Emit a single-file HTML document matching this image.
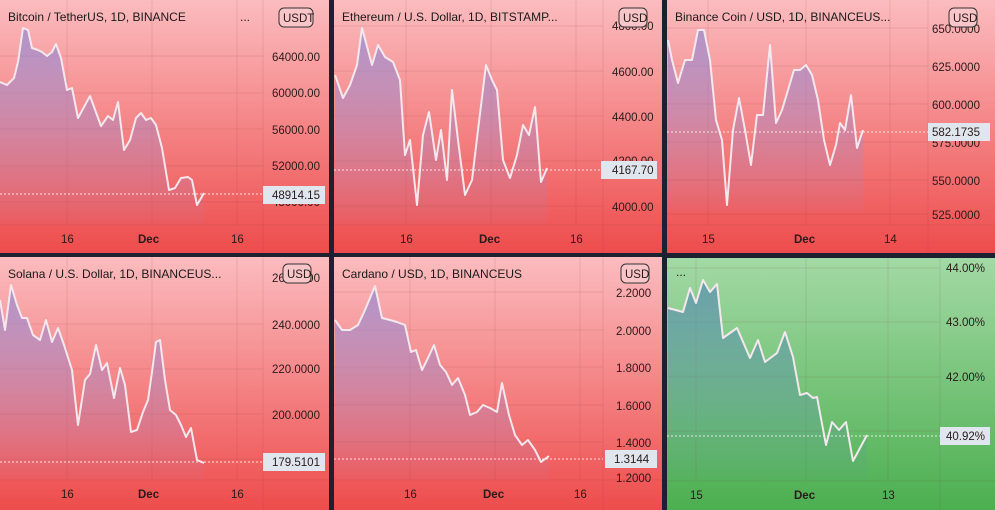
<!DOCTYPE html>
<html><head><meta charset="utf-8"><style>
body{margin:0;background:#1c2030;}
svg{display:block;font-family:"Liberation Sans",sans-serif;}
.t{font-size:12px;fill:#1a1a1a}
.a{font-size:11.5px;fill:#2a1a1a}
.b{font-size:11.5px;fill:#2a1a1a;font-weight:bold}
.ln{fill:none;stroke:#f3e8ee;stroke-width:2;stroke-linejoin:round}
.g{stroke:rgba(120,40,40,0.12);stroke-width:1}
.dot{stroke:#fff;stroke-width:1;stroke-dasharray:2,2;opacity:.8}
</style></head><body>
<svg width="995" height="510" viewBox="0 0 995 510">
<defs>
<linearGradient id="r" x1="0" y1="0" x2="0" y2="1"><stop offset="0" stop-color="#fbbcbf"/><stop offset="1" stop-color="#ee4c4c"/></linearGradient>
<linearGradient id="gr" x1="0" y1="0" x2="0" y2="1"><stop offset="0" stop-color="#a3d9a5"/><stop offset="1" stop-color="#4caf50"/></linearGradient>
<linearGradient id="f" x1="0" y1="0" x2="0" y2="1"><stop offset="0" stop-color="#9a8ad0" stop-opacity=".75"/><stop offset="1" stop-color="#9a8ad0" stop-opacity=".05"/></linearGradient>
<linearGradient id="fg" x1="0" y1="0" x2="0" y2="1"><stop offset="0" stop-color="#5a8eb0" stop-opacity=".75"/><stop offset="1" stop-color="#5a8eb0" stop-opacity=".05"/></linearGradient>
</defs>
<rect width="995" height="510" fill="#1c2030"/>
<!-- panels -->
<rect x="0" y="0" width="329" height="253" fill="url(#r)"/>
<rect x="334" y="0" width="328" height="253" fill="url(#r)"/>
<rect x="667" y="0" width="328" height="253" fill="url(#r)"/>
<rect x="0" y="257" width="329" height="253" fill="url(#r)"/>
<rect x="334" y="257" width="328" height="253" fill="url(#r)"/>
<rect x="667" y="258" width="328" height="252" fill="url(#gr)"/>

<!-- Panel 1 -->
<g>
<line class="g" x1="0" y1="225" x2="329" y2="225"/><line class="g" x1="263" y1="0" x2="263" y2="253"/>
<line class="g" x1="67" y1="0" x2="67" y2="225"/><line class="g" x1="152" y1="0" x2="152" y2="225"/><line class="g" x1="237" y1="0" x2="237" y2="225"/>
<line class="g" x1="0" y1="56" x2="263" y2="56"/><line class="g" x1="0" y1="93" x2="263" y2="93"/><line class="g" x1="0" y1="129" x2="263" y2="129"/><line class="g" x1="0" y1="166" x2="263" y2="166"/><line class="g" x1="0" y1="202" x2="263" y2="202"/>
<path fill="url(#f)" d="M0,82 7,85 14,78 18,62 23,28 28,30 32,48 38,50 42,52 47,56 52,52 56,44 61,58 67,90 72,88 78,118 90,96 101,126 108,116 113,120 118,102 124,150 130,140 136,118 141,113 146,120 151,118 156,125 162,148 169,190 175,188 181,178 188,177 192,180 197,205 204,193 204,225 0,225Z"/>
<path class="ln" d="M0,82 7,85 14,78 18,62 23,28 28,30 32,48 38,50 42,52 47,56 52,52 56,44 61,58 67,90 72,88 78,118 90,96 101,126 108,116 113,120 118,102 124,150 130,140 136,118 141,113 146,120 151,118 156,125 162,148 169,190 175,188 181,178 188,177 192,180 197,205 204,193"/>
<line class="dot" x1="0" y1="194" x2="263" y2="194"/>
<text class="t" x="8" y="21">Bitcoin / TetherUS, 1D, BINANCE</text><text class="t" x="240" y="21">...</text>
<text class="a" x="272" y="61">64000.00</text><text class="a" x="272" y="97">60000.00</text><text class="a" x="272" y="134">56000.00</text><text class="a" x="272" y="170">52000.00</text><text class="a" x="272" y="206">48000.00</text>
<rect x="279" y="8" width="34" height="19" rx="5" fill="#f8c6c8" stroke="#333"/><text class="a" x="283" y="22">USDT</text>
<rect x="263" y="186" width="62" height="18" fill="#dfe6ee"/><text class="a" x="272" y="199">48914.15</text>
<text class="a" x="61" y="243">16</text><text class="b" x="138" y="243">Dec</text><text class="a" x="231" y="243">16</text>
</g>

<!-- Panel 2 -->
<g>
<line class="g" x1="334" y1="225" x2="662" y2="225"/><line class="g" x1="603" y1="0" x2="603" y2="253"/>
<line class="g" x1="406" y1="0" x2="406" y2="225"/><line class="g" x1="491" y1="0" x2="491" y2="225"/><line class="g" x1="576" y1="0" x2="576" y2="225"/>
<line class="g" x1="334" y1="26" x2="603" y2="26"/><line class="g" x1="334" y1="71" x2="603" y2="71"/><line class="g" x1="334" y1="116" x2="603" y2="116"/><line class="g" x1="334" y1="161" x2="603" y2="161"/><line class="g" x1="334" y1="206" x2="603" y2="206"/>
<path fill="url(#f)" d="M335,75 343,98 350,85 357,65 362,28 372,65 378,45 385,57 393,62 400,80 405,155 410,140 417,205 423,135 429,112 436,160 441,130 447,180 452,90 458,140 465,195 472,180 478,130 486,65 492,80 497,90 503,160 510,178 517,155 523,125 529,135 535,107 541,182 547,168 547,225 335,225Z"/>
<path class="ln" d="M335,75 343,98 350,85 357,65 362,28 372,65 378,45 385,57 393,62 400,80 405,155 410,140 417,205 423,135 429,112 436,160 441,130 447,180 452,90 458,140 465,195 472,180 478,130 486,65 492,80 497,90 503,160 510,178 517,155 523,125 529,135 535,107 541,182 547,168"/>
<line class="dot" x1="334" y1="170" x2="603" y2="170"/>
<text class="t" x="342" y="21">Ethereum / U.S. Dollar, 1D, BITSTAMP...</text>
<text class="a" x="612" y="30">4800.00</text><text class="a" x="612" y="76">4600.00</text><text class="a" x="612" y="121">4400.00</text><text class="a" x="612" y="165">4200.00</text><text class="a" x="612" y="211">4000.00</text>
<rect x="619" y="8" width="28" height="19" rx="5" fill="#f8c6c8" stroke="#333"/><text class="a" x="623" y="22">USD</text>
<rect x="601" y="161" width="56" height="18" fill="#dfe6ee"/><text class="a" x="612" y="174">4167.70</text>
<text class="a" x="400" y="243">16</text><text class="b" x="479" y="243">Dec</text><text class="a" x="570" y="243">16</text>
</g>

<!-- Panel 3 -->
<g>
<line class="g" x1="667" y1="225" x2="995" y2="225"/><line class="g" x1="928" y1="0" x2="928" y2="253"/>
<line class="g" x1="708" y1="0" x2="708" y2="225"/><line class="g" x1="806" y1="0" x2="806" y2="225"/><line class="g" x1="890" y1="0" x2="890" y2="225"/>
<line class="g" x1="667" y1="28" x2="928" y2="28"/><line class="g" x1="667" y1="66" x2="928" y2="66"/><line class="g" x1="667" y1="104" x2="928" y2="104"/><line class="g" x1="667" y1="142" x2="928" y2="142"/><line class="g" x1="667" y1="180" x2="928" y2="180"/><line class="g" x1="667" y1="214" x2="928" y2="214"/>
<path fill="url(#f)" d="M668,40 672,60 678,83 685,60 692,60 698,30 704,30 710,60 716,120 722,140 727,205 733,130 739,98 745,130 751,165 757,115 763,115 770,45 776,123 782,110 788,90 794,70 800,70 806,65 812,75 818,100 824,140 830,165 836,145 840,123 845,130 851,95 857,148 863,130 863,212 668,212Z"/>
<path class="ln" d="M668,40 672,60 678,83 685,60 692,60 698,30 704,30 710,60 716,120 722,140 727,205 733,130 739,98 745,130 751,165 757,115 763,115 770,45 776,123 782,110 788,90 794,70 800,70 806,65 812,75 818,100 824,140 830,165 836,145 840,123 845,130 851,95 857,148 863,130"/>
<line class="dot" x1="667" y1="132" x2="928" y2="132"/>
<text class="t" x="675" y="21">Binance Coin / USD, 1D, BINANCEUS...</text>
<text class="a" x="932" y="33">650.0000</text><text class="a" x="932" y="71">625.0000</text><text class="a" x="932" y="109">600.0000</text><text class="a" x="932" y="147">575.0000</text><text class="a" x="932" y="185">550.0000</text><text class="a" x="932" y="219">525.0000</text>
<rect x="949" y="8" width="28" height="19" rx="5" fill="#f8c6c8" stroke="#333"/><text class="a" x="953" y="22">USD</text>
<rect x="928" y="123" width="62" height="18" fill="#dfe6ee"/><text class="a" x="932" y="136">582.1735</text>
<text class="a" x="702" y="243">15</text><text class="b" x="794" y="243">Dec</text><text class="a" x="884" y="243">14</text>
</g>

<!-- Panel 4 -->
<g>
<line class="g" x1="0" y1="480" x2="329" y2="480"/><line class="g" x1="263" y1="257" x2="263" y2="510"/>
<line class="g" x1="67" y1="257" x2="67" y2="480"/><line class="g" x1="152" y1="257" x2="152" y2="480"/><line class="g" x1="237" y1="257" x2="237" y2="480"/>
<line class="g" x1="0" y1="324" x2="263" y2="324"/><line class="g" x1="0" y1="369" x2="263" y2="369"/><line class="g" x1="0" y1="414" x2="263" y2="414"/><line class="g" x1="0" y1="459" x2="263" y2="459"/>
<path fill="url(#f)" d="M0,300 5,330 11,285 17,305 22,318 27,318 33,335 40,340 46,320 52,342 58,328 64,345 72,370 78,425 85,380 90,374 96,345 102,370 107,363 114,398 120,368 125,385 131,432 137,430 143,412 148,400 152,372 156,342 160,340 165,380 170,410 176,415 181,425 186,437 191,428 197,460 204,463 204,480 0,480Z"/>
<path class="ln" d="M0,300 5,330 11,285 17,305 22,318 27,318 33,335 40,340 46,320 52,342 58,328 64,345 72,370 78,425 85,380 90,374 96,345 102,370 107,363 114,398 120,368 125,385 131,432 137,430 143,412 148,400 152,372 156,342 160,340 165,380 170,410 176,415 181,425 186,437 191,428 197,460 204,463"/>
<line class="dot" x1="0" y1="462" x2="263" y2="462"/>
<text class="t" x="8" y="278">Solana / U.S. Dollar, 1D, BINANCEUS...</text>
<text class="a" x="272" y="282">260.0000</text><text class="a" x="272" y="329">240.0000</text><text class="a" x="272" y="373">220.0000</text><text class="a" x="272" y="419">200.0000</text>
<rect x="283" y="264" width="28" height="19" rx="5" fill="#f8c6c8" stroke="#333"/><text class="a" x="287" y="278">USD</text>
<rect x="263" y="453" width="62" height="18" fill="#dfe6ee"/><text class="a" x="272" y="466">179.5101</text>
<text class="a" x="61" y="498">16</text><text class="b" x="138" y="498">Dec</text><text class="a" x="231" y="498">16</text>
</g>

<!-- Panel 5 -->
<g>
<line class="g" x1="334" y1="480" x2="662" y2="480"/><line class="g" x1="603" y1="257" x2="603" y2="510"/>
<line class="g" x1="410" y1="257" x2="410" y2="480"/><line class="g" x1="495" y1="257" x2="495" y2="480"/><line class="g" x1="580" y1="257" x2="580" y2="480"/>
<line class="g" x1="334" y1="292" x2="603" y2="292"/><line class="g" x1="334" y1="330" x2="603" y2="330"/><line class="g" x1="334" y1="367" x2="603" y2="367"/><line class="g" x1="334" y1="405" x2="603" y2="405"/><line class="g" x1="334" y1="442" x2="603" y2="442"/>
<path fill="url(#f)" d="M335,320 342,330 350,330 358,325 365,310 375,286 382,318 390,320 397,322 405,325 411,352 416,350 422,370 428,358 434,345 440,365 446,372 452,385 458,378 465,395 470,415 477,412 483,405 490,408 497,412 502,383 509,415 515,435 522,445 528,440 535,450 541,462 549,456 549,480 335,480Z"/>
<path class="ln" d="M335,320 342,330 350,330 358,325 365,310 375,286 382,318 390,320 397,322 405,325 411,352 416,350 422,370 428,358 434,345 440,365 446,372 452,385 458,378 465,395 470,415 477,412 483,405 490,408 497,412 502,383 509,415 515,435 522,445 528,440 535,450 541,462 549,456"/>
<line class="dot" x1="334" y1="459" x2="603" y2="459"/>
<text class="t" x="342" y="278">Cardano / USD, 1D, BINANCEUS</text>
<text class="a" x="616" y="297">2.2000</text><text class="a" x="616" y="335">2.0000</text><text class="a" x="616" y="372">1.8000</text><text class="a" x="616" y="410">1.6000</text><text class="a" x="616" y="447">1.4000</text><text class="a" x="616" y="482">1.2000</text>
<rect x="621" y="264" width="28" height="19" rx="5" fill="#f8c6c8" stroke="#333"/><text class="a" x="625" y="278">USD</text>
<rect x="605" y="450" width="52" height="18" fill="#dfe6ee"/><text class="a" x="614" y="463">1.3144</text>
<text class="a" x="404" y="498">16</text><text class="b" x="483" y="498">Dec</text><text class="a" x="574" y="498">16</text>
</g>

<!-- Panel 6 -->
<g>
<line class="g" x1="667" y1="481" x2="995" y2="481"/><line class="g" x1="940" y1="258" x2="940" y2="510"/>
<line class="g" x1="696" y1="258" x2="696" y2="481"/><line class="g" x1="806" y1="258" x2="806" y2="481"/><line class="g" x1="888" y1="258" x2="888" y2="481"/>
<line class="g" x1="667" y1="268" x2="940" y2="268"/><line class="g" x1="667" y1="322" x2="940" y2="322"/><line class="g" x1="667" y1="377" x2="940" y2="377"/><line class="g" x1="667" y1="431" x2="940" y2="431"/>
<path fill="url(#fg)" d="M668,308 683,312 690,288 696,303 703,280 710,292 717,284 723,338 737,328 750,358 758,340 765,362 777,353 785,332 793,357 800,395 807,393 813,398 817,397 826,445 832,422 839,430 846,422 853,461 867,435 867,481 668,481Z"/>
<path class="ln" d="M668,308 683,312 690,288 696,303 703,280 710,292 717,284 723,338 737,328 750,358 758,340 765,362 777,353 785,332 793,357 800,395 807,393 813,398 817,397 826,445 832,422 839,430 846,422 853,461 867,435"/>
<line class="dot" x1="667" y1="436" x2="940" y2="436"/>
<text class="t" x="676" y="276">...</text>
<text class="a" x="946" y="272">44.00%</text><text class="a" x="946" y="326">43.00%</text><text class="a" x="946" y="381">42.00%</text>
<rect x="940" y="427" width="50" height="18" fill="#dfe6ee"/><text class="a" x="946" y="440">40.92%</text>
<text class="a" x="690" y="499">15</text><text class="b" x="794" y="499">Dec</text><text class="a" x="882" y="499">13</text>
</g>
</svg>
</body></html>
